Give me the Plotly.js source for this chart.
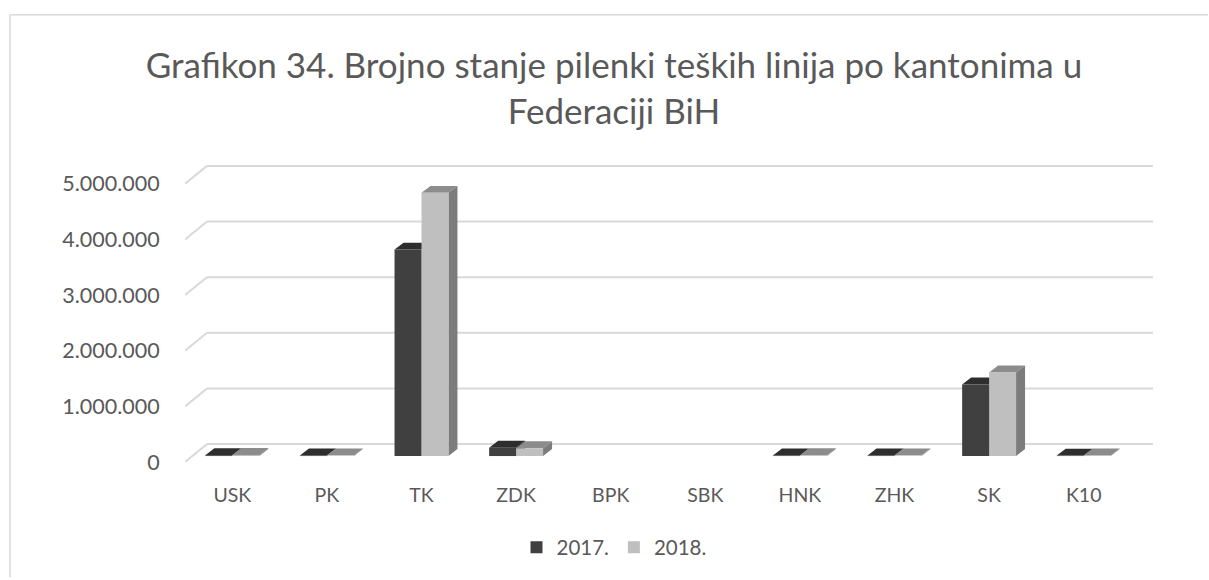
<!DOCTYPE html>
<html>
<head>
<meta charset="utf-8">
<script src="https://cdn.plot.ly/plotly-3.0.1.min.js"></script>
<style>html,body{margin:0;padding:0;background:#fff;}#chart{width:1209px;height:580px;}</style>
</head>
<body>
<div id="chart"></div>
<script>
// ---- data ----
const categories = ['USK','PK','TK','ZDK','BPK','SBK','HNK','ZHK','SK','K10'];
const series2017 = [15000, 10000, 3710000, 150000, 0, 0, 10000, 10000, 1285000, 8000];
const series2018 = [20000, 12000, 4730000, 140000, 0, 0, 15000, 12000, 1500000, 10000];
const seriesNames = ['2017.', '2018.'];
const yTickVals = [0, 1000000, 2000000, 3000000, 4000000, 5000000];
const yTickText = ['0', '1.000.000', '2.000.000', '3.000.000', '4.000.000', '5.000.000'];

// ---- geometry (pixels -> data units) ----
const W = 1209, H = 580;
const L = 185, R = 1153, T = 150, B = 464;
const catPx = 94.6;                 // px per category
const pxPerM = 56;                  // px per 1.000.000
const xMin = -0.5, xMax = xMin + (R - L) / catPx;
const yMax = (B - T) / pxPerM * 1e6;
const px2x = p => p / catPx;
const px2y = p => p / pxPerM * 1e6;

const backDX = px2x(22), backDY = px2y(18);   // back wall offset
const barDX = px2x(9), barDY = px2y(7);       // bar depth
const barBase = px2y(6);                      // bars sit slightly behind the front edge
const barW = 0.285;

const xIdx = categories.map((c, i) => i);

// ---- back wall gridlines & floor diagonals (shapes) ----
const gridColor = '#d9d9d9';
const shapes = [];
yTickVals.forEach(v => {
  shapes.push({type:'line', xref:'x', yref:'y', x0:xMin + backDX, x1:xMax, y0:v + backDY, y1:v + backDY,
    line:{color:gridColor, width:2}, layer:'below'});
  shapes.push({type:'line', xref:'x', yref:'y', x0:xMin, x1:xMin + backDX, y0:v, y1:v + backDY,
    line:{color:gridColor, width:2}, layer:'below'});
});
// chart border (top + left)
const pxX = p => (p - L) / (R - L);
const pxY = p => (B - p) / (B - T);
shapes.push({type:'line', xref:'paper', yref:'paper', x0:pxX(10), x1:pxX(1208), y0:pxY(14), y1:pxY(14),
  line:{color:'#d9d9d9', width:1.5}});
shapes.push({type:'line', xref:'paper', yref:'paper', x0:pxX(10), x1:pxX(10), y0:pxY(14), y1:pxY(580),
  line:{color:'#d9d9d9', width:1.5}});

// ---- 3D faces ----
function faces(vals, offsetSign, kind) {
  const xs = [], ys = [];
  vals.forEach((v, i) => {
    if (!(v > 0)) return;
    const x0 = offsetSign < 0 ? i - barW : i;
    const x1 = x0 + barW;
    const top = barBase + v;
    if (kind === 'top') {
      xs.push(x0, x1, x1 + barDX, x0 + barDX, x0, null);
      ys.push(top, top, top + barDY, top + barDY, top, null);
    } else {
      xs.push(x1, x1, x1 + barDX, x1 + barDX, x1, null);
      ys.push(barBase, top, top + barDY, barBase + barDY, barBase, null);
    }
  });
  return {x: xs, y: ys};
}
function faceTrace(vals, sign, kind, color) {
  const f = faces(vals, sign, kind);
  return {type:'scatter', mode:'lines', x:f.x, y:f.y, fill:'toself', fillcolor:color,
    line:{width:0, color:color}, hoverinfo:'skip', showlegend:false, xaxis:'x', yaxis:'y'};
}

const c17 = {front:'#404040', top:'#2e2e2e', side:'#303030'};
const c18 = {front:'#bfbfbf', top:'#8c8c8c', side:'#7c7c7c'};

const traces = [
  faceTrace(series2017, -1, 'top', c17.top),
  faceTrace(series2017, -1, 'side', c17.side),
  faceTrace(series2018, 1, 'top', c18.top),
  faceTrace(series2018, 1, 'side', c18.side),
  {type:'bar', name:seriesNames[0], x:xIdx, y:series2017, base:barBase, width:barW, offset:-barW,
   marker:{color:c17.front, line:{width:0}}, xaxis:'x', yaxis:'y2', hoverinfo:'skip'},
  {type:'bar', name:seriesNames[1], x:xIdx, y:series2018, base:barBase, width:barW, offset:0,
   marker:{color:c18.front, line:{width:0}}, xaxis:'x', yaxis:'y2', hoverinfo:'skip'}
];

const textColor = '#595959';
const fontFam = 'Lato, "Open Sans", sans-serif';

const layout = {
  width: W, height: H,
  margin: {l: L, r: W - R, t: T, b: H - B, pad: 0},
  paper_bgcolor: '#ffffff', plot_bgcolor: 'rgba(0,0,0,0)',
  font: {family: fontFam, color: textColor},
  title: {text: 'Grafikon 34. Brojno stanje pilenki teških linija po kantonima u<br>Federaciji BiH',
    font: {size: 35, color: textColor, family: fontFam},
    x: 614 / W, xref: 'container', xanchor: 'center', y: 1 - 78 / H, yref: 'container', yanchor: 'top'},
  showlegend: true,
  legend: {orientation: 'h', x: pxX(614), xanchor: 'center', y: pxY(550), yanchor: 'middle',
    font: {size: 20.5, color: textColor, family: fontFam}, traceorder: 'normal', itemwidth: 30},
  barmode: 'overlay',
  xaxis: {range: [xMin, xMax], tickvals: xIdx, ticktext: categories, showgrid: false, zeroline: false,
    showline: false, ticks: 'outside', ticklen: 16, tickcolor: 'rgba(0,0,0,0)',
    tickfont: {size: 19.5, color: textColor, family: fontFam}, fixedrange: true},
  yaxis: {range: [0, yMax], tickvals: yTickVals, ticktext: yTickText, showgrid: false, zeroline: false,
    showline: false, ticks: 'outside', ticklen: 20, tickcolor: 'rgba(0,0,0,0)',
    tickfont: {size: 21.5, color: textColor, family: fontFam}, fixedrange: true},
  yaxis2: {range: [0, yMax], overlaying: 'y', visible: false, showgrid: false, zeroline: false, fixedrange: true},
  shapes: shapes
};

Plotly.newPlot('chart', traces, layout, {staticPlot: true, displayModeBar: false});
</script>
</body>
</html>
